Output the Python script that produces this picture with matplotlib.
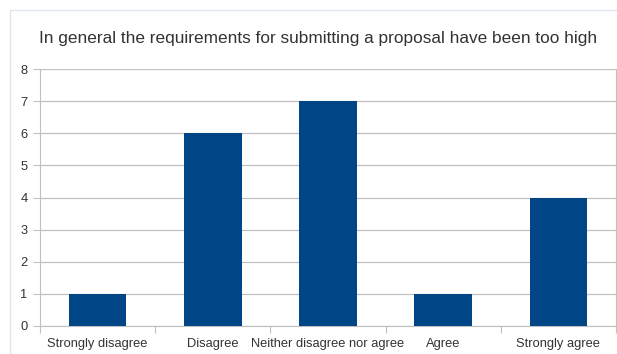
import matplotlib.pyplot as plt
from matplotlib.patches import Rectangle

categories = ["Strongly disagree", "Disagree", "Neither disagree nor agree",
              "Agree", "Strongly agree"]
counts = [1, 6, 7, 1, 4]
title = "In general the requirements for submitting a proposal have been too high"

plt.rcParams['font.family'] = ['Liberation Sans', 'DejaVu Sans']

fig = plt.figure(figsize=(6.17, 3.54), dpi=100)
fig.patches.append(Rectangle((10 / 617, -0.1), 1.0, (354 - 10) / 354 + 0.1,
                             transform=fig.transFigure, fill=False,
                             edgecolor='#dfe6ef', linewidth=1.0))

ax = fig.add_axes([40 / 617, 28 / 354, 576 / 617, 257 / 354])
x = list(range(len(categories)))
ax.bar(x, counts, width=0.5, color='#004586', zorder=3)

ax.set_xlim(-0.5, len(categories) - 0.5)
ax.set_ylim(0, 8)
ax.set_yticks(range(0, 9))
ax.yaxis.grid(True, color='#c0c0c0', linewidth=0.9, zorder=0)

# category boundaries get the tick marks, labels sit in between
ax.set_xticks([i - 0.5 for i in range(len(categories) + 1)])
ax.set_xticklabels([])
ax.set_xticks(x, minor=True)
ax.set_xticklabels(categories, minor=True, fontsize=9.3, color='#333333')
ax.tick_params(axis='x', which='minor', length=0, pad=9)
ax.tick_params(axis='x', which='major', length=5, color='#c0c0c0')
ax.tick_params(axis='y', length=5, color='#c0c0c0', labelsize=9.3,
               labelcolor='#333333', pad=4)

ax.spines['top'].set_visible(False)
for side in ['left', 'right', 'bottom']:
    ax.spines[side].set_color('#c0c0c0')

fig.text(318 / 617, 1 - 38 / 354, title, ha='center', va='center',
         fontsize=12.4, color='#333333')

fig.savefig('out.png', dpi=100)
